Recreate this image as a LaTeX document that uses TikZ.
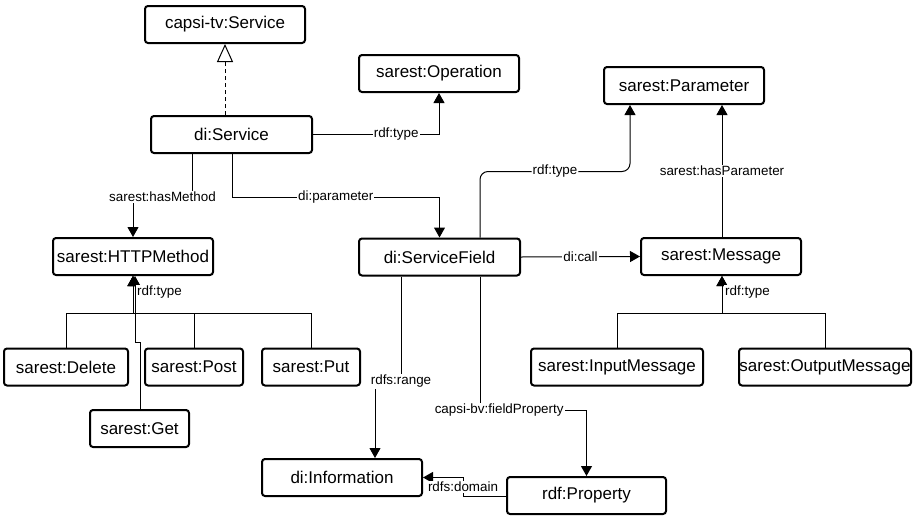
\documentclass[tikz,border=0pt]{standalone}
\usepackage{fontspec}
\setmainfont{Liberation Sans}
\usepackage{tikz}
\usetikzlibrary{arrows.meta}

\begin{document}
\begin{tikzpicture}[x=1pt, y=-1pt,
    box/.style={draw, line width=2pt, rounded corners=3pt, inner sep=0pt,
      minimum width=160pt, minimum height=37pt,
      font=\fontsize{17}{20}\selectfont},
    lbl/.style={fill=white, inner sep=1pt, font=\fontsize{13.4}{16}\selectfont},
    rel/.style={line width=1pt, -{Triangle[width=11pt,length=10pt]}},
    subclass/.style={line width=1pt, dash pattern=on 4pt off 3pt,
      -{Triangle[open,width=16pt,length=18pt]}}]
  \useasboundingbox (0,0) rectangle (915,517);

  \node[box] (TVService)    at (225,24.5)   {capsi-tv:Service};
  \node[box, minimum width=161pt] (DIService) at (231.5,134.5) {di:Service};
  \node[box] (Operation)    at (439,73.5)   {sarest:Operation};
  \node[box] (Parameter)    at (684,85.5)   {sarest:Parameter};
  \node[box] (HTTPMethod)   at (133,256.5)  {sarest:HTTPMethod};
  \node[box, minimum width=161pt] (ServiceField) at (439.5,257) {di:ServiceField};
  \node[box] (Message)      at (721,256.5)  {sarest:Message};
  \node[box, minimum width=124pt] (Delete) at (66,367)   {sarest:Delete};
  \node[box, minimum width=98pt]  (Post)   at (194,367)  {sarest:Post};
  \node[box, minimum width=98pt]  (Put)    at (311,367)  {sarest:Put};
  \node[box, minimum width=99pt]  (Get)    at (139.5,428.5) {sarest:Get};
  \node[box, minimum width=172pt] (InputMsg)  at (617,367) {sarest:InputMessage};
  \node[box, minimum width=172pt] (OutputMsg) at (825,367) {sarest:OutputMessage};
  \node[box] (Information)  at (342,477.5)  {di:Information};
  \node[box, minimum width=159pt] (Property) at (586.5,495.5) {rdf:Property};

  \draw[subclass] (TVService.south |- DIService.north) -- (TVService.south);
  \draw[rel] (DIService.east) -| node[lbl,pos=0.33]{rdf:type} (Operation.south);
  \draw[rel] ([xshift=-39.5pt]DIService.south) -- ++(0,43)
    -| node[lbl,pos=0.25]{sarest:hasMethod} (HTTPMethod.north);
  \draw[rel] ([xshift=0.5pt]DIService.south) -- ++(0,43)
    -| node[lbl,pos=0.25]{di:parameter} (ServiceField.north);

  \draw[rel, rounded corners=8pt] ([xshift=40.5pt]ServiceField.north) -- ++(0,-66)
    -| node[lbl,pos=0.25]{rdf:type} ([xshift=-54pt]Parameter.south);
  \draw[rel] ([xshift=1pt]Message.north) -- node[lbl]{sarest:hasParameter}
    ([xshift=1pt]Message.north |- Parameter.south);
  \draw[rel] (ServiceField.east) -- node[lbl]{di:call} (Message.west);

  \draw[rel] ([xshift=-38.5pt]ServiceField.south) -- ++(0,105)
    -| node[lbl,pos=0]{rdfs:range} ([xshift=33pt]Information.north);
  \draw[rel] ([xshift=40.5pt]ServiceField.south) -- ++(0,134)
    -| node[lbl,pos=0.09]{capsi-bv:fieldProperty} (Property.north);
  \draw[rel] ([yshift=-0.5pt]Property.west) -- ++(-43,0)
    |- node[lbl,pos=0.25]{rdfs:domain} (Information.east);

  % method instances
  \coordinate (HTTPJoin) at ([yshift=-37pt]HTTPMethod.south);
  \foreach \inst in {Delete,Post,Put}
    \draw[rel] (\inst.north) |- (HTTPJoin) -- (HTTPMethod.south);
  \draw[rel] ([xshift=0.5pt]Get.north) -- ++(0,-67) -| ([xshift=2pt]HTTPMethod.south);
  \node[lbl, anchor=west] (HTTPType) at ([xshift=3pt,yshift=-16pt]HTTPMethod.south) {rdf:type};

  % message instances
  \coordinate (MsgJoin) at ([xshift=1pt,yshift=-37pt]Message.south);
  \foreach \inst in {InputMsg,OutputMsg}
    \draw[rel] (\inst.north) |- (MsgJoin) -- ([xshift=1pt]Message.south);
  \node[lbl, anchor=west] (MsgType) at ([xshift=3pt,yshift=-16pt]Message.south) {rdf:type};
\end{tikzpicture}
\end{document}
